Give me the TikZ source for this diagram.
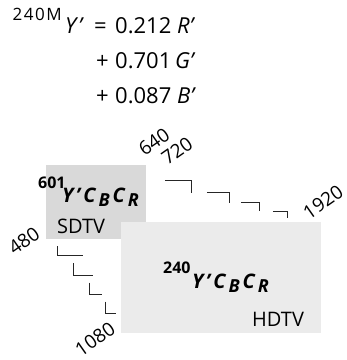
\documentclass[tikz,border=0pt]{standalone}
\usepackage{fontspec}
\setmainfont{Open Sans}
\newcommand{\myycc}{{\bfseries\itshape Y\kern2.5pt’\kern3pt C\kern3pt\raisebox{-4pt}{\fontsize{18}{18}\selectfont B}\kern3pt C\kern3pt\raisebox{-4pt}{\fontsize{18}{18}\selectfont R}}}
\begin{document}
\begin{tikzpicture}[x=1pt,y=-1pt,
  eq/.style={inner sep=0pt, anchor=base west, font=\fontsize{22}{22}\selectfont},
  sup/.style={inner sep=0pt, anchor=base west, font=\fontsize{17}{17}\selectfont},
  bsup/.style={inner sep=0pt, anchor=base west, font=\fontsize{16}{16}\selectfont\bfseries},
  big/.style={inner sep=0pt, anchor=base west, font=\fontsize{20}{20}\selectfont},
  lbl/.style={inner sep=0pt, anchor=base west, font=\fontsize{20}{20}\selectfont},
  dim/.style={inner sep=0pt, rotate=35, font=\fontsize{19}{19}\selectfont},
  corner/.style={line width=1pt, black!85}]
\useasboundingbox (0,0) rectangle (347,360);
% equation
\node[sup] (s240m) at (12.5,20.7) {2\kern1.5pt 4\kern1.5pt 0\kern1.5pt M};
\node[eq] (yp) at (65,33.3) {\itshape Y\kern2pt’};
\node[eq] (eqs) at (94,33.3) {=};
\node[eq] (c1) at (115,33.3) {0.212 \textit{R’}};
\node[eq] (p2) at (96,68) {+};
\node[eq] (c2) at (115,68) {0.701\,\textit{G’}};
\node[eq] (p3) at (96,103) {+};
\node[eq] (c3) at (115,103) {0.087 \textit{B’}};
% boxes
\fill[black!15] (46,165) rectangle (146,239);
\fill[black!8] (121,222) rectangle (321,333);
\node[bsup] (s601) at (38,188) {601};
\node[big] (sdy) at (62,202.7) {\myycc};
\node[lbl] (sdtv) at (57,233) {SDTV};
\node[bsup] (s240) at (163,273.5) {240};
\node[big] (hdy) at (192,288) {\myycc};
\node[lbl] (hdtv) at (252,326) {HDTV};
% corners
\draw[corner] (165,180.7) -- (192,180.7) -- (192,193);
\draw[corner] (207,192) -- (230,192) -- (230,203);
\draw[corner] (241,202) -- (260,202) -- (260,211);
\draw[corner] (273,211) -- (288,211) -- (288,218);
\draw[corner] (57.7,246) -- (57.7,255.7) -- (82.7,255.7);
\draw[corner] (73.3,263) -- (73.3,275) -- (92.7,275);
\draw[corner] (89.3,282.7) -- (89.3,294.3) -- (101.7,294.3);
\draw[corner] (105.3,301.7) -- (105.3,313.3) -- (116,313.3);
% dimension labels
\node[dim] (d640) at (154,142) {640};
\node[dim] (d720) at (177,151) {720};
\node[dim] (d1920) at (323,202) {1920};
\node[dim] (d480) at (24,241) {480};
\node[dim] (d1080) at (95,339) {1080};
\end{tikzpicture}
\end{document}
